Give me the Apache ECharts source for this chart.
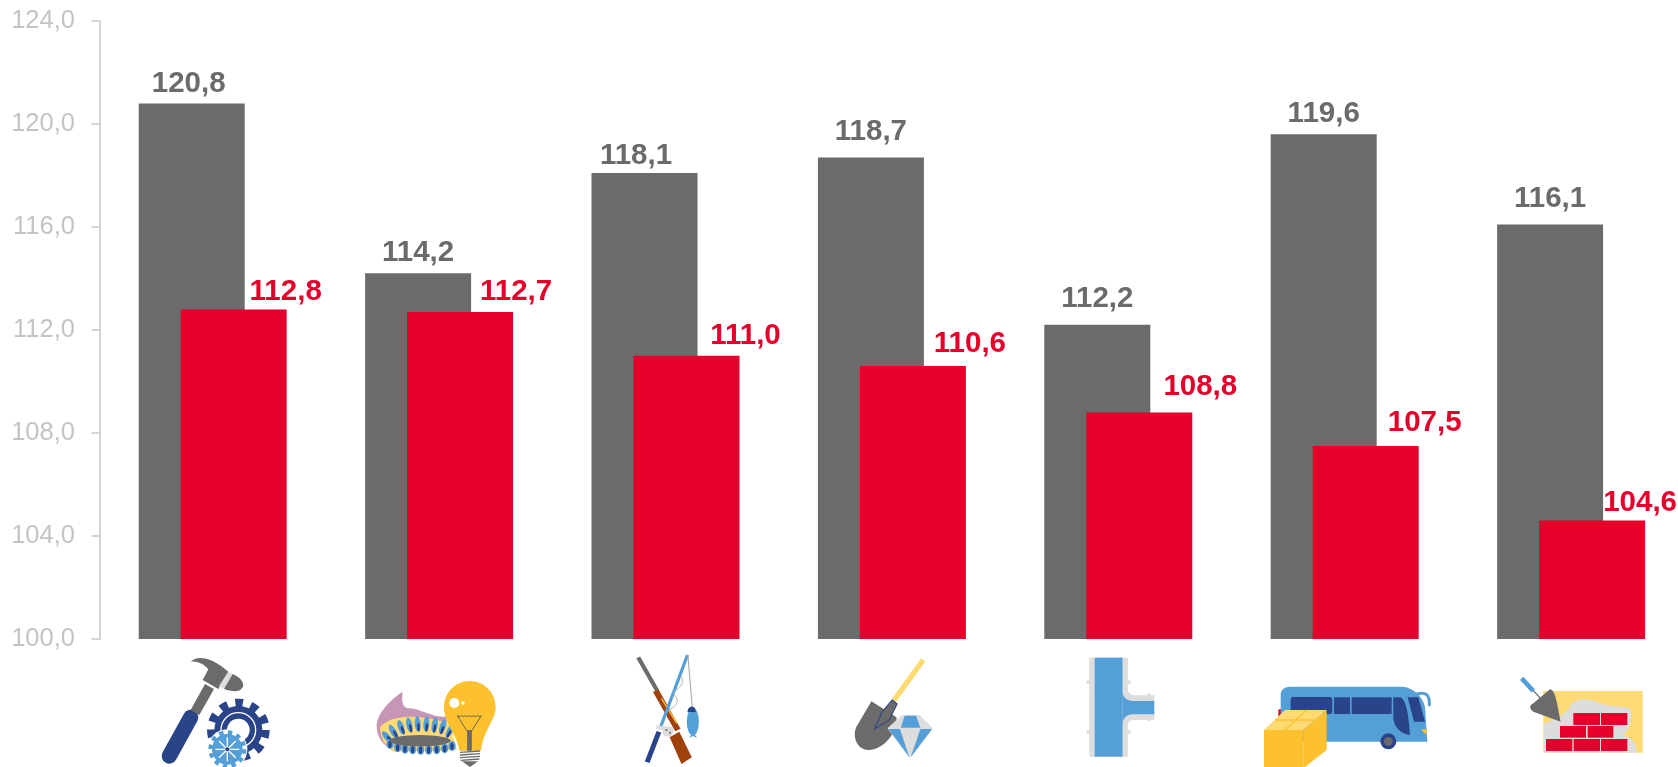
<!DOCTYPE html>
<html><head><meta charset="utf-8">
<style>html,body{margin:0;padding:0;background:#fff}#c{width:1678px;height:767px}</style>
<script src="https://cdn.jsdelivr.net/npm/echarts@6/dist/echarts.min.js"></script>
</head><body><div id="c"></div>
<script>
const categories = ['tools','energy','hunting','mining','pipes','transport','construction'];
const greySeries = [120.8,114.2,118.1,118.7,112.2,119.6,116.1];
const redSeries = [112.8,112.7,111.0,110.6,108.8,107.5,104.6];
const yTicks = {min:100,max:124,interval:4};

const redLabelShift = [[52,1],[56,-1],[59,-1],[57,-3],[61,-7],[59,-4],[48,1]];
const greyLabelShift = [[-3,-1],[0,-1],[-8.5,2],[0,-6.5],[0,-6.5],[0,-1],[0,-6.5]];

const GREY='#6b6b6b',RED='#e4002b',NAVY='#2a4489',BLUE='#559fd9',GOLD='#fdc02f',SAND='#fddb72',PALE='#dedddd';
const BAND=226.4, LEFT=99.5, TOP=640, H=127;

function gearTeeth(cx,cy,r,w,n,col){
  const c=2*Math.PI*r, d=c/n/2;
  return `<circle cx="${cx}" cy="${cy}" r="${r}" fill="none" stroke="${col}" stroke-width="${w}" stroke-dasharray="${d} ${d}"/>`;
}
function flames(){
  let s='';
  [[862,352,-40],[880,335,-30],[903,322,-20],[928,315,-12],[953,312,-4],[979,312,4],[1004,315,10],[1028,320,18],[1050,332,28]].forEach(f=>{
    s+=`<ellipse cx="${f[0]}" cy="${f[1]}" rx="9" ry="23" fill="${BLUE}" transform="rotate(${f[2]} ${f[0]} ${f[1]})"/>`;
    s+=`<ellipse cx="${f[0]+2}" cy="${f[1]+10}" rx="4" ry="13" fill="${NAVY}" transform="rotate(${f[2]} ${f[0]} ${f[1]})"/>`;
  });
  [[870,372],[893,382],[915,386],[938,388],[962,389],[986,389],[1010,388],[1034,385],[1056,378]].forEach(f=>{
    s+=`<ellipse cx="${f[0]}" cy="${f[1]}" rx="11" ry="15" fill="${BLUE}"/><ellipse cx="${f[0]}" cy="${f[1]+1}" rx="5" ry="11" fill="${NAVY}"/>`;
  });
  return s;
}
const icons = [
 {o:[100,620],sx:3,body:`
  <line x1="208" y1="408" x2="272" y2="292" stroke="${NAVY}" stroke-width="46" stroke-linecap="round"/>
  <polygon points="272,270 315,192 342,207 298,285" fill="${GREY}"/>
  <path d="M272,125 C290,105 335,110 385,155 L355,207 L308,180 L325,148 C310,130 290,122 272,125 Z" fill="${GREY}"/>
  <polygon points="385,155 398,162 372,207 357,198" fill="${PALE}"/>
  <path d="M398,162 C420,170 435,190 428,202 C420,218 395,215 372,207 Z" fill="${GREY}"/>
  ${gearTeeth(415,330,80,28,11,NAVY)}
  <circle cx="415" cy="330" r="72" fill="${NAVY}"/>
  <circle cx="415" cy="330" r="52" fill="none" stroke="#fff" stroke-width="4"/>
  <circle cx="415" cy="330" r="34" fill="#fff"/>
  <circle cx="382" cy="388" r="60" fill="#fff"/>
  ${gearTeeth(382,388,50,14,12,BLUE)}
  <circle cx="382" cy="388" r="46" fill="${BLUE}"/>
  <g stroke="#fff" stroke-width="4">
   <line x1="382" y1="352" x2="382" y2="424"/><line x1="346" y1="388" x2="418" y2="388"/>
   <line x1="357" y1="363" x2="407" y2="413"/><line x1="407" y1="363" x2="357" y2="413"/></g>
  <circle cx="382" cy="388" r="6" fill="${NAVY}"/>`},
 {o:[100,620],sx:3,body:`
  <path d="M908,215 C870,240 830,280 830,320 C830,350 850,375 870,385 L1040,350 L1040,290 C1000,295 960,265 925,265 C905,262 905,240 908,215 Z" fill="#c795b5"/>
  <path d="M840,320 C860,300 890,290 930,290 C970,290 1020,300 1050,310 L1070,390 L880,395 C855,380 840,350 840,320 Z" fill="${SAND}"/>
  ${flames()}
  <ellipse cx="960" cy="362" rx="92" ry="17" fill="${GREY}"/>
  <path d="M1108,183 C1155,183 1187,220 1187,262 C1187,300 1150,330 1143,392 L1078,392 C1075,350 1032,310 1032,262 C1032,220 1065,183 1108,183 Z" fill="${GOLD}"/>
  <circle cx="1063" cy="249" r="15" fill="#fff"/><circle cx="1089" cy="249" r="5" fill="#fff"/>
  <path d="M1072,287 q6,6 12,0 q6,6 12,0 q6,6 12,0 q6,6 12,0 q6,6 12,0 q6,6 12,0 L1115,333 L1101,333 Z" fill="none" stroke="#555" stroke-width="2.5"/>
  <rect x="1102" y="332" width="13" height="60" fill="${GREY}" stroke="#555" stroke-width="1"/>
  <g stroke="${GREY}" stroke-width="4"><line x1="1080" y1="397" x2="1140" y2="393"/><line x1="1080" y1="405" x2="1140" y2="401"/><line x1="1080" y1="413" x2="1140" y2="409"/><line x1="1082" y1="421" x2="1138" y2="417"/></g>
  <polygon points="1086,424 1134,424 1110,441" fill="${GREY}"/>`},
 {o:[600,620],sx:2.8,body:`
  <line x1="107" y1="112" x2="160" y2="212" stroke="${GREY}" stroke-width="12"/>
  <line x1="156" y1="212" x2="218" y2="330" stroke="#a0410d" stroke-width="17"/>
  <line x1="172" y1="235" x2="215" y2="310" stroke="${GOLD}" stroke-width="4"/>
  <polygon points="195,352 222,335 257,412 228,432" fill="#a0410d"/>
  <line x1="245" y1="105" x2="170" y2="320" stroke="${BLUE}" stroke-width="9"/>
  <line x1="165" y1="335" x2="132" y2="427" stroke="${NAVY}" stroke-width="14"/>
  <line x1="246" y1="105" x2="258" y2="258" stroke="#aaa" stroke-width="3"/>
  <path d="M225,165 C240,185 225,205 205,215 M205,220 C225,240 215,260 195,268" fill="none" stroke="#aaa" stroke-width="2.5"/>
  <polygon points="158,316 205,322 204,334 158,328" fill="${PALE}"/>
  <circle cx="190" cy="335" r="15" fill="${PALE}"/><circle cx="186" cy="330" r="3" fill="${GREY}"/><circle cx="196" cy="338" r="3" fill="${GREY}"/>
  <ellipse cx="260" cy="305" rx="17" ry="42" fill="${BLUE}"/>
  <polygon points="260,335 272,354 260,348 250,354" fill="${BLUE}"/>
  <path d="M245,276 C245,258 267,250 268,276 Z" fill="${NAVY}"/>`},
 {o:[600,620],sx:2.8,body:`
  <line x1="905" y1="120" x2="822" y2="243" stroke="${SAND}" stroke-width="15"/>
  <path d="M760,244 L830,292 C835,340 790,392 750,390 C720,388 705,350 718,320 Z" fill="${GREY}"/>
  <path d="M818,240 L832,252 L810,300 L769,327 L790,275 Z" fill="${GREY}" stroke="${NAVY}" stroke-width="3"/>
  <polygon points="845,285 895,285 932,325 868,415 805,325" fill="${PALE}"/>
  <polygon points="853,287 885,287 897,323 842,323" fill="${BLUE}"/>
  <polygon points="808,327 840,327 866,412" fill="${BLUE}"/>
  <polygon points="897,327 930,327 870,412" fill="${BLUE}"/>`},
 {o:[600,620],sx:2.8,body:`
  <g fill="${PALE}"><circle cx="1368" cy="187" r="6"/><circle cx="1480" cy="187" r="6"/><circle cx="1368" cy="337" r="6"/><circle cx="1480" cy="337" r="6"/><circle cx="1537" cy="226" r="6"/><circle cx="1537" cy="298" r="6"/></g>
  <path d="M1370,113 H1478 V205 C1478,220 1485,226 1497,226 H1552 V300 H1497 C1485,300 1478,305 1478,320 V410 H1370 Z" fill="${PALE}"/>
  <rect x="1385" y="113" width="78" height="297" fill="${BLUE}"/>
  <path d="M1463,210 C1463,232 1475,243 1492,243 L1552,243 L1552,283 L1492,283 C1475,283 1463,294 1463,316 Z" fill="${BLUE}"/>`},
 {o:[1240,620],sx:3,body:`
  <rect x="115" y="268" width="12" height="25" fill="${RED}"/>
  <path d="M122,225 C122,208 135,200 150,200 L490,200 C520,205 545,225 555,260 L562,365 L122,365 Z" fill="${BLUE}"/>
  <path d="M530,222 C555,215 570,222 568,255" fill="none" stroke="${BLUE}" stroke-width="9" stroke-linecap="round"/>
  <g fill="${NAVY}"><rect x="152" y="231" width="125" height="51" rx="8"/><rect x="282" y="232" width="48" height="50"/><rect x="335" y="232" width="120" height="50"/>
  <path d="M460,232 L480,232 C495,235 505,270 510,345 C480,340 460,320 460,290 Z"/><path d="M503,232 L535,232 L555,305 L522,305 Z"/></g>
  <path d="M545,328 L560,328 L560,342 C552,342 548,336 545,328 Z" fill="${GOLD}"/>
  <circle cx="445" cy="364" r="24" fill="${NAVY}"/><circle cx="445" cy="364" r="13" fill="${GREY}"/>
  <polygon points="72,330 190,330 190,441 72,441" fill="${GOLD}"/>
  <polygon points="190,330 260,270 260,390 195,441 190,441" fill="${GOLD}"/>
  <polygon points="72,330 135,270 260,270 190,330" fill="${SAND}"/>
  <g stroke="${GOLD}" stroke-width="4"><line x1="105" y1="300" x2="228" y2="300"/><line x1="135" y1="330" x2="200" y2="270"/></g>`},
 {o:[1240,620],sx:3,body:`
  <rect x="910" y="213" width="298" height="185" fill="${SAND}"/>
  <path d="M912,398 L912,310 C940,300 970,290 990,260 C1000,235 1040,235 1070,245 C1100,260 1130,255 1170,265 C1180,290 1170,330 1150,345 C1170,355 1190,360 1190,398 Z" fill="${PALE}"/>
  <g fill="${RED}"><rect x="1000" y="279" width="80" height="36"/><rect x="1083" y="279" width="79" height="36"/>
  <rect x="960" y="318" width="78" height="35"/><rect x="1043" y="318" width="77" height="35"/>
  <rect x="918" y="357" width="79" height="36"/><rect x="1001" y="357" width="79" height="36"/><rect x="1083" y="357" width="79" height="36"/></g>
  <line x1="880" y1="212" x2="902" y2="236" stroke="${GREY}" stroke-width="4"/>
  <line x1="845" y1="175" x2="880" y2="213" stroke="${BLUE}" stroke-width="14"/>
  <path d="M930,208 C945,210 950,240 962,305 L880,275 C865,265 870,255 880,250 Z" fill="${GREY}"/>`}
];
const rich = {};
icons.forEach((ic,i)=>{
  const bx=LEFT+BAND*i;
  const vb=[(bx-ic.o[0])*ic.sx,(TOP-ic.o[1])*3,BAND*ic.sx,H*3].join(' ');
  const svg=`<svg xmlns="http://www.w3.org/2000/svg" width="${BAND}" height="${H}" viewBox="${vb}" preserveAspectRatio="none">${ic.body}</svg>`;
  rich['i'+i]={width:BAND,height:H,backgroundColor:{image:'data:image/svg+xml;charset=utf-8,'+encodeURIComponent(svg)}};
});
const fmt=v=>v.toFixed(1).replace('.',',');
const chart=echarts.init(document.getElementById('c'),null,{renderer:'canvas'});
chart.setOption({
  animation:false,
  backgroundColor:'#fff',
  grid:{left:LEFT,width:7*BAND,top:21,height:618,containLabel:false,outerBoundsMode:'none'},
  xAxis:{type:'category',data:categories,axisLine:{show:false},axisTick:{show:false},
    axisLabel:{interval:0,margin:1,hideOverlap:false,formatter:(v,i)=>`{i${i}|}`,rich}},
  yAxis:{type:'value',min:yTicks.min,max:yTicks.max,interval:yTicks.interval,splitLine:{show:false},
    axisLine:{show:true,lineStyle:{color:'#c6c6c6',width:1.5}},
    axisTick:{show:true,length:8,lineStyle:{color:'#c6c6c6',width:1.5}},
    axisLabel:{color:'#c4c4c4',fontFamily:'Liberation Sans',fontSize:25.5,margin:24.5,lineHeight:32,padding:[5,0,0,0],formatter:v=>fmt(v)}},
  series:[
    {type:'bar',barWidth:106,barGap:'-60.4%',itemStyle:{color:GREY},
     data:greySeries.map((v,i)=>({value:v,label:{offset:greyLabelShift[i]}})),
     label:{show:true,position:'top',distance:4,color:GREY,fontFamily:'Liberation Sans',fontWeight:'bold',fontSize:29.5,formatter:p=>fmt(p.value)}},
    {type:'bar',barWidth:106,itemStyle:{color:RED},
     data:redSeries.map((v,i)=>({value:v,label:{offset:redLabelShift[i]}})),
     label:{show:true,position:'top',distance:4,color:RED,fontFamily:'Liberation Sans',fontWeight:'bold',fontSize:29.5,formatter:p=>fmt(p.value)}}
  ]
});
</script></body></html>
